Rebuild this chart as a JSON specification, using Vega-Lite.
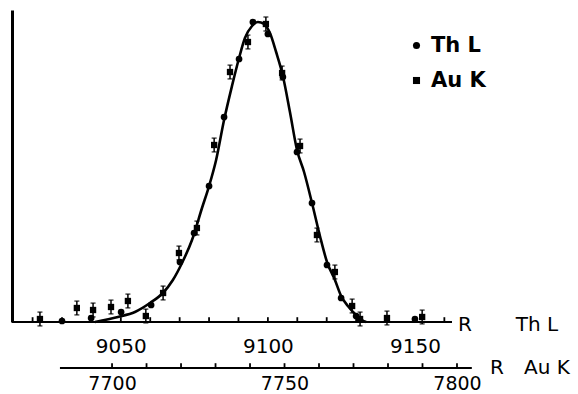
{
  "$schema": "https://vega.github.io/schema/vega-lite/v6.json",
  "width": 460,
  "height": 312,
  "autosize": "none",
  "padding": {"left": 12, "top": 10, "right": 106, "bottom": 72},
  "background": "white",
  "config": {
    "view": {"stroke": null},
    "font": "DejaVu Sans",
    "axisX": {"domain": false, "grid": false, "ticks": false, "labelColor": "black", "labelFontSize": 20, "labelOverlap": false, "title": null, "format": "d", "labelExpr": "datum.value % 50 === 0 ? datum.label : ''"},
    "axisY": {"domain": true, "domainColor": "black", "domainWidth": 3, "ticks": false, "labels": false, "grid": false, "title": null}
  },
  "datasets": {
    "curve": [
      {"R": 9041.2, "c": 0}, {"R": 9049.0, "c": 1.67}, {"R": 9054.8, "c": 3.33}, {"R": 9059.9, "c": 6.33},
      {"R": 9064.3, "c": 9.67}, {"R": 9067.7, "c": 14}, {"R": 9070.8, "c": 19.67}, {"R": 9074.2, "c": 27.33},
      {"R": 9077.6, "c": 38}, {"R": 9080.0, "c": 45.33},
      {"R": 9082.4, "c": 54}, {"R": 9085.1, "c": 67.33}, {"R": 9087.8, "c": 78.7}, {"R": 9090.2, "c": 88},
      {"R": 9092.2, "c": 94.67}, {"R": 9094.6, "c": 98.67}, {"R": 9096.6, "c": 100}, {"R": 9098.7, "c": 99.33},
      {"R": 9100.7, "c": 96.33}, {"R": 9102.8, "c": 90}, {"R": 9105.1, "c": 82}, {"R": 9107.5, "c": 70},
      {"R": 9109.9, "c": 57.33}, {"R": 9112.3, "c": 50}, {"R": 9115.0, "c": 39.67}, {"R": 9117.7, "c": 28.67},
      {"R": 9120.1, "c": 20}, {"R": 9122.8, "c": 14}, {"R": 9124.9, "c": 8.67}, {"R": 9127.2, "c": 5.33},
      {"R": 9130.0, "c": 2.33}, {"R": 9132.0, "c": 0.67}, {"R": 9133.4, "c": 0}
    ],
    "thl": [
      {"R": 9030.0, "c": 0.33, "series": "Th L"}, {"R": 9039.9, "c": 1.33, "series": "Th L"},
      {"R": 9050.1, "c": 3.33, "series": "Th L"}, {"R": 9060.3, "c": 5.67, "series": "Th L"},
      {"R": 9070.1, "c": 20, "series": "Th L"}, {"R": 9074.9, "c": 29.67, "series": "Th L"},
      {"R": 9080.0, "c": 45.33, "series": "Th L"}, {"R": 9085.1, "c": 68.33, "series": "Th L"},
      {"R": 9090.2, "c": 87.67, "series": "Th L"}, {"R": 9094.9, "c": 100, "series": "Th L"},
      {"R": 9100.0, "c": 96, "series": "Th L"}, {"R": 9105.1, "c": 81.67, "series": "Th L"},
      {"R": 9109.9, "c": 56.67, "series": "Th L"}, {"R": 9115.0, "c": 39.67, "series": "Th L"},
      {"R": 9120.1, "c": 19, "series": "Th L"}, {"R": 9124.9, "c": 8, "series": "Th L"},
      {"R": 9130.0, "c": 2, "series": "Th L"}, {"R": 9150.0, "c": 1, "series": "Th L"}
    ],
    "auk": [
      {"R": 7679.1, "c": 1, "err": 2.3, "series": "Au K"}, {"R": 7689.8, "c": 4.67, "err": 2.3, "series": "Au K"},
      {"R": 7694.5, "c": 4, "err": 2.3, "series": "Au K"}, {"R": 7699.7, "c": 5, "err": 2.3, "series": "Au K"},
      {"R": 7704.6, "c": 7, "err": 2.3, "series": "Au K"}, {"R": 7709.8, "c": 2, "err": 2.3, "series": "Au K"},
      {"R": 7714.8, "c": 9.67, "err": 2.3, "series": "Au K"}, {"R": 7719.4, "c": 23, "err": 2.3, "series": "Au K"},
      {"R": 7724.6, "c": 31.33, "err": 2.3, "series": "Au K"}, {"R": 7729.6, "c": 59, "err": 2.3, "series": "Au K"},
      {"R": 7734.2, "c": 83.33, "err": 2.3, "series": "Au K"}, {"R": 7739.4, "c": 93.33, "err": 2.3, "series": "Au K"},
      {"R": 7744.6, "c": 99.33, "err": 2.3, "series": "Au K"}, {"R": 7749.3, "c": 83, "err": 2.3, "series": "Au K"},
      {"R": 7754.5, "c": 58.67, "err": 2.3, "series": "Au K"}, {"R": 7759.4, "c": 29, "err": 2.3, "series": "Au K"},
      {"R": 7764.6, "c": 16.67, "err": 2.3, "series": "Au K"}, {"R": 7769.6, "c": 5.33, "err": 2.3, "series": "Au K"},
      {"R": 7771.9, "c": 1, "err": 2.3, "series": "Au K"}, {"R": 7779.7, "c": 1.33, "err": 2.3, "series": "Au K"},
      {"R": 7789.9, "c": 1.67, "err": 2.3, "series": "Au K"}
    ],
    "thlTicks": [
      {"R": 9020, "y": 0, "y2": 1.6}, {"R": 9030, "y": 0, "y2": 1.6}, {"R": 9040, "y": 0, "y2": 1.6}, {"R": 9050, "y": 0, "y2": 1.6},
      {"R": 9060, "y": 0, "y2": 1.6}, {"R": 9070, "y": 0, "y2": 1.6}, {"R": 9080, "y": 0, "y2": 1.6}, {"R": 9090, "y": 0, "y2": 1.6},
      {"R": 9100, "y": 0, "y2": 1.6}, {"R": 9110, "y": 0, "y2": 1.6}, {"R": 9120, "y": 0, "y2": 1.6}, {"R": 9130, "y": 0, "y2": 1.6},
      {"R": 9140, "y": 0, "y2": 1.6}, {"R": 9150, "y": 0, "y2": 1.6}, {"R": 9160, "y": 0, "y2": 1.6}
    ],
    "aukTicks": [
      {"R": 7700, "y": -15.33, "y2": -13.73}, {"R": 7710, "y": -15.33, "y2": -13.73}, {"R": 7720, "y": -15.33, "y2": -13.73},
      {"R": 7730, "y": -15.33, "y2": -13.73}, {"R": 7740, "y": -15.33, "y2": -13.73}, {"R": 7750, "y": -15.33, "y2": -13.73},
      {"R": 7760, "y": -15.33, "y2": -13.73}, {"R": 7770, "y": -15.33, "y2": -13.73}, {"R": 7780, "y": -15.33, "y2": -13.73},
      {"R": 7790, "y": -15.33, "y2": -13.73}, {"R": 7800, "y": -15.33, "y2": -13.73}
    ]
  },
  "layer": [
    {
      "layer": [
        {
          "data": {"name": "curve"},
          "mark": {"type": "line", "color": "black", "strokeWidth": 2.6, "interpolate": "monotone"},
          "encoding": {
            "x": {"field": "R", "type": "quantitative", "scale": {"domain": [9013, 9169.4], "nice": false, "zero": false},
                  "axis": {"orient": "bottom", "labelPadding": 14, "values": [9050, 9100, 9150]}},
            "y": {"field": "c", "type": "quantitative", "title": null, "scale": {"domain": [0, 104], "nice": false}}
          }
        },
        {
          "data": {"name": "thl"},
          "mark": {"type": "point", "filled": true, "color": "black", "size": 45, "opacity": 1},
          "encoding": {
            "x": {"field": "R", "type": "quantitative",
                  "axis": {"orient": "bottom", "labelPadding": 14, "values": [9050, 9100, 9150]}},
            "y": {"field": "c", "type": "quantitative", "title": null},
            "shape": {"field": "series", "type": "nominal",
                      "scale": {"domain": ["Th L", "Au K"], "range": ["circle", "square"]},
                      "legend": {"orient": "none", "legendX": 394, "legendY": 25, "title": null, "labelFontSize": 21, "labelFontWeight": "bold", "labelColor": "black", "symbolFillColor": "black", "symbolStrokeColor": "black", "symbolSize": 50, "rowPadding": 13, "labelOffset": 4}}
          }
        },
        {
          "data": {"values": [{"a": 9013, "b": 9162.6, "y": 0}]},
          "mark": {"type": "rule", "color": "black", "strokeWidth": 2.2},
          "encoding": {
            "x": {"field": "a", "type": "quantitative",
                  "axis": {"orient": "bottom", "labelPadding": 14, "values": [9050, 9100, 9150]}},
            "x2": {"field": "b"},
            "y": {"field": "y", "type": "quantitative", "title": null}
          }
        },
        {
          "data": {"name": "thlTicks"},
          "mark": {"type": "rule", "color": "black", "strokeWidth": 1.8},
          "encoding": {
            "x": {"field": "R", "type": "quantitative",
                  "axis": {"orient": "bottom", "labelPadding": 14, "values": [9050, 9100, 9150]}},
            "y": {"field": "y", "type": "quantitative", "title": null},
            "y2": {"field": "y2"}
          }
        },
        {
          "data": {"values": [{"t": "R", "R": 9167, "y": -1}, {"t": "Th L", "R": 9191.5, "y": -1}]},
          "mark": {"type": "text", "fontSize": 20, "align": "center", "baseline": "middle", "color": "black"},
          "encoding": {
            "x": {"field": "R", "type": "quantitative",
                  "axis": {"orient": "bottom", "labelPadding": 14, "values": [9050, 9100, 9150]}},
            "y": {"field": "y", "type": "quantitative", "title": null},
            "text": {"field": "t"}
          }
        }
      ]
    },
    {
      "layer": [
        {
          "data": {"name": "auk"},
          "mark": {"type": "errorbar", "ticks": true, "color": "black", "thickness": 1.5},
          "encoding": {
            "x": {"field": "R", "type": "quantitative", "scale": {"domain": [7671, 7804.35], "nice": false, "zero": false},
                  "axis": {"orient": "bottom", "offset": 46, "labelPadding": 6, "labelFontSize": 19, "values": [7700, 7750, 7800]}},
            "y": {"field": "c", "type": "quantitative", "title": null},
            "yError": {"field": "err"}
          }
        },
        {
          "data": {"name": "auk"},
          "mark": {"type": "point", "filled": true, "color": "black", "size": 40, "opacity": 1},
          "encoding": {
            "x": {"field": "R", "type": "quantitative",
                  "axis": {"orient": "bottom", "offset": 46, "labelPadding": 6, "labelFontSize": 19, "values": [7700, 7750, 7800]}},
            "y": {"field": "c", "type": "quantitative", "title": null},
            "shape": {"field": "series", "type": "nominal"}
          }
        },
        {
          "data": {"values": [{"a": 7684.9, "b": 7804.3, "y": -15.33}]},
          "mark": {"type": "rule", "color": "black", "strokeWidth": 2.2},
          "encoding": {
            "x": {"field": "a", "type": "quantitative",
                  "axis": {"orient": "bottom", "offset": 46, "labelPadding": 6, "labelFontSize": 19, "values": [7700, 7750, 7800]}},
            "x2": {"field": "b"},
            "y": {"field": "y", "type": "quantitative", "title": null}
          }
        },
        {
          "data": {"name": "aukTicks"},
          "mark": {"type": "rule", "color": "black", "strokeWidth": 1.8},
          "encoding": {
            "x": {"field": "R", "type": "quantitative",
                  "axis": {"orient": "bottom", "offset": 46, "labelPadding": 6, "labelFontSize": 19, "values": [7700, 7750, 7800]}},
            "y": {"field": "y", "type": "quantitative", "title": null},
            "y2": {"field": "y2"}
          }
        },
        {
          "data": {"values": [{"t": "R", "R": 7811.6, "y": -15.33}, {"t": "Au K", "R": 7826.1, "y": -15.33}]},
          "mark": {"type": "text", "fontSize": 20, "align": "center", "baseline": "middle", "color": "black"},
          "encoding": {
            "x": {"field": "R", "type": "quantitative",
                  "axis": {"orient": "bottom", "offset": 46, "labelPadding": 6, "labelFontSize": 19, "values": [7700, 7750, 7800]}},
            "y": {"field": "y", "type": "quantitative", "title": null},
            "text": {"field": "t"}
          }
        }
      ]
    }
  ],
  "resolve": {"scale": {"x": "independent"}, "axis": {"x": "independent"}}
}
